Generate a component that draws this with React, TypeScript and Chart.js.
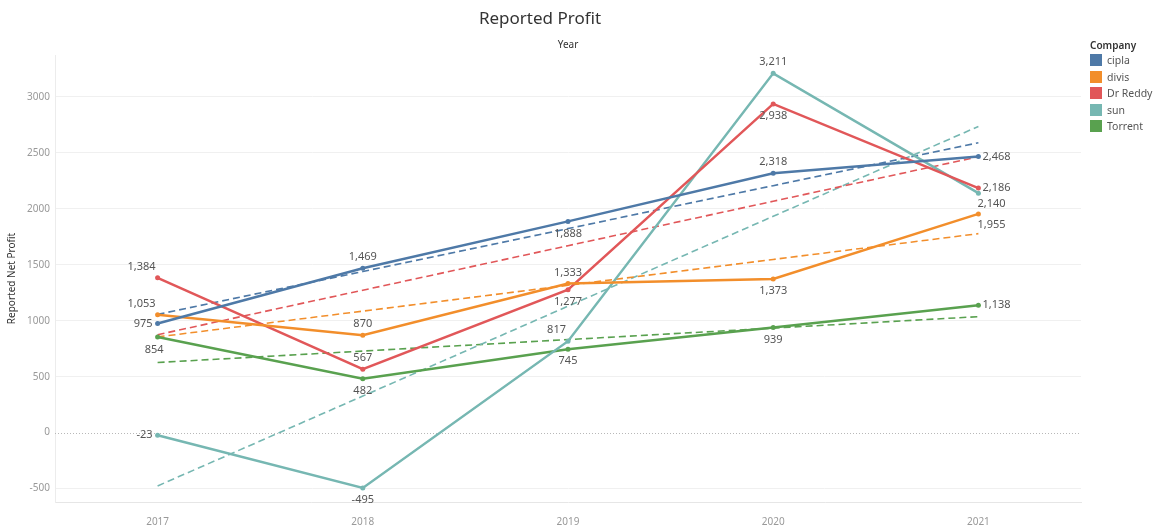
import React, { useEffect, useRef } from "react";
import { Chart, registerables } from "chart.js";
Chart.register(...registerables);

const years = ["2017", "2018", "2019", "2020", "2021"];
const companies = ["cipla", "divis", "Dr Reddy", "sun", "Torrent"];
const cipla = [975, 1469, 1888, 2318, 2468];
const divis = [1053, 870, 1333, 1373, 1955];
const drReddy = [1384, 567, 1277, 2938, 2186];
const sun = [-23, -495, 817, 3211, 2140];
const torrent = [854, 482, 745, 939, 1138];
const yTicks = [-500, 0, 500, 1000, 1500, 2000, 2500, 3000];

const seriesValues = [cipla, divis, drReddy, sun, torrent];
const colors = ["#4e79a7", "#f28e2b", "#e15759", "#76b7b2", "#59a14f"];
// label placement per point (style, not data)
const placements = [
  ["l", "t", "b", "t", "r"],
  ["tl", "t", "t", "b", "br"],
  ["tl", "t", "b", "b", "r"],
  ["l", "b", "tl", "t", "br"],
  ["bl", "b", "b", "b", "r"],
];

const FONT = "'Noto Sans', 'Open Sans', sans-serif";

function linearTrend(values: number[]): number[] {
  const n = values.length;
  const xs = values.map((_, i) => i);
  const mx = xs.reduce((a, b) => a + b, 0) / n;
  const my = values.reduce((a, b) => a + b, 0) / n;
  let num = 0;
  let den = 0;
  for (let i = 0; i < n; i++) {
    num += (xs[i] - mx) * (values[i] - my);
    den += (xs[i] - mx) * (xs[i] - mx);
  }
  const slope = num / den;
  return xs.map((x) => my + slope * (x - mx));
}

const labelPlugin = {
  id: "pointLabels",
  beforeDatasetsDraw(chart: any) {
    const { ctx, chartArea, scales } = chart;
    const y0 = scales.y.getPixelForValue(0);
    ctx.save();
    ctx.strokeStyle = "#b8b8b8";
    ctx.lineWidth = 1;
    ctx.setLineDash([1, 2]);
    ctx.beginPath();
    ctx.moveTo(chartArea.left, Math.round(y0) + 0.5);
    ctx.lineTo(chartArea.right, Math.round(y0) + 0.5);
    ctx.stroke();
    ctx.restore();
  },
  afterDatasetsDraw(chart: any) {
    const { ctx } = chart;
    ctx.save();
    ctx.font = `11px ${FONT}`;
    ctx.fillStyle = "#555";
    seriesValues.forEach((vals, si) => {
      const meta = chart.getDatasetMeta(si);
      meta.data.forEach((pt: any, i: number) => {
        const txt = vals[i].toLocaleString("en-US");
        const p = placements[si][i];
        let x = pt.x;
        let y = pt.y;
        let align: CanvasTextAlign = "center";
        if (p === "t") { y -= 11; }
        else if (p === "b") { y += 12; }
        else if (p === "l") { x -= 5; align = "right"; }
        else if (p === "r") { x += 4; align = "left"; }
        else if (p === "tl") { x -= 2; y -= 11; align = "right"; }
        else if (p === "bl") { x += 6; y += 13; align = "right"; }
        else if (p === "br") { x -= 1; y += 11; align = "left"; }
        ctx.textAlign = align;
        ctx.textBaseline = "middle";
        ctx.fillText(txt, x, y);
      });
    });
    ctx.restore();
  },
};

export default function App() {
  const ref = useRef<HTMLCanvasElement>(null);
  useEffect(() => {
    if (!ref.current) return;
    const main = seriesValues.map((vals, i) => ({
      label: companies[i],
      data: vals,
      borderColor: colors[i],
      backgroundColor: colors[i],
      borderWidth: 2.5,
      pointRadius: 2.5,
      pointBorderWidth: 0,
      tension: 0,
      order: 0,
    }));
    const trends = seriesValues.map((vals, i) => ({
      label: companies[i] + " trend",
      data: linearTrend(vals),
      borderColor: colors[i],
      backgroundColor: colors[i],
      borderWidth: 1.6,
      borderDash: [7, 4],
      pointRadius: 0,
      tension: 0,
      order: 1,
    }));
    const chart = new Chart(ref.current, {
      type: "line",
      data: { labels: years, datasets: [...main, ...trends] as any },
      options: {
        responsive: false,
        animation: false,
        layout: { padding: { top: 55, right: 73, left: 0, bottom: 0 } },
        plugins: { legend: { display: false }, tooltip: { enabled: false } },
        scales: {
          x: {
            offset: true,
            grid: { display: false },
            border: { color: "#e6e6e6" },
            ticks: { color: "#999", font: { family: FONT, size: 10 }, padding: 6 },
            afterFit: (s: any) => { s.height = 27; },
          },
          y: {
            min: -620,
            max: 3375,
            afterBuildTicks: (axis: any) => {
              axis.ticks = yTicks.map((v) => ({ value: v }));
            },
            grid: {
              color: (c: any) => (c.tick && c.tick.value === 0 ? "rgba(0,0,0,0)" : "#f0f0f0"),
              drawTicks: false,
            },
            border: { color: "#ececec" },
            ticks: { color: "#999", font: { family: FONT, size: 10 }, padding: 5, callback: (v: any) => String(v) },
            title: {
              display: true,
              text: "Reported Net Profit",
              color: "#333",
              font: { family: FONT, size: 10 },
              padding: { top: 6, bottom: 0 },
            },
            afterFit: (s: any) => { s.width = 55; },
          },
        },
      },
      plugins: [labelPlugin],
    });
    return () => chart.destroy();
  }, []);

  return (
    <div style={{ position: "absolute", left: 0, top: 0, width: 1154, height: 529, background: "#fff", fontFamily: FONT }}>
      <canvas ref={ref} width={1154} height={529} style={{ position: "absolute", left: 0, top: 0 }} />
      <div style={{ position: "absolute", left: 0, width: 1080, top: 6, textAlign: "center", fontSize: 17, color: "#333" }}>
        Reported Profit
      </div>
      <div style={{ position: "absolute", left: 55, width: 1026, top: 37, textAlign: "center", fontSize: 10, color: "#333" }}>
        Year
      </div>
      <div style={{ position: "absolute", left: 1090, top: 38, fontSize: 10, color: "#333" }}>
        <div style={{ height: 14, fontWeight: 600 }}>Company</div>
        {companies.map((c, i) => (
          <div key={c} style={{ display: "flex", alignItems: "center", height: 16.5 }}>
            <span style={{ width: 12, height: 12, background: colors[i], display: "inline-block", marginRight: 5 }} />
            <span style={{ color: "#555", fontSize: 10.5 }}>{c}</span>
          </div>
        ))}
      </div>
    </div>
  );
}
